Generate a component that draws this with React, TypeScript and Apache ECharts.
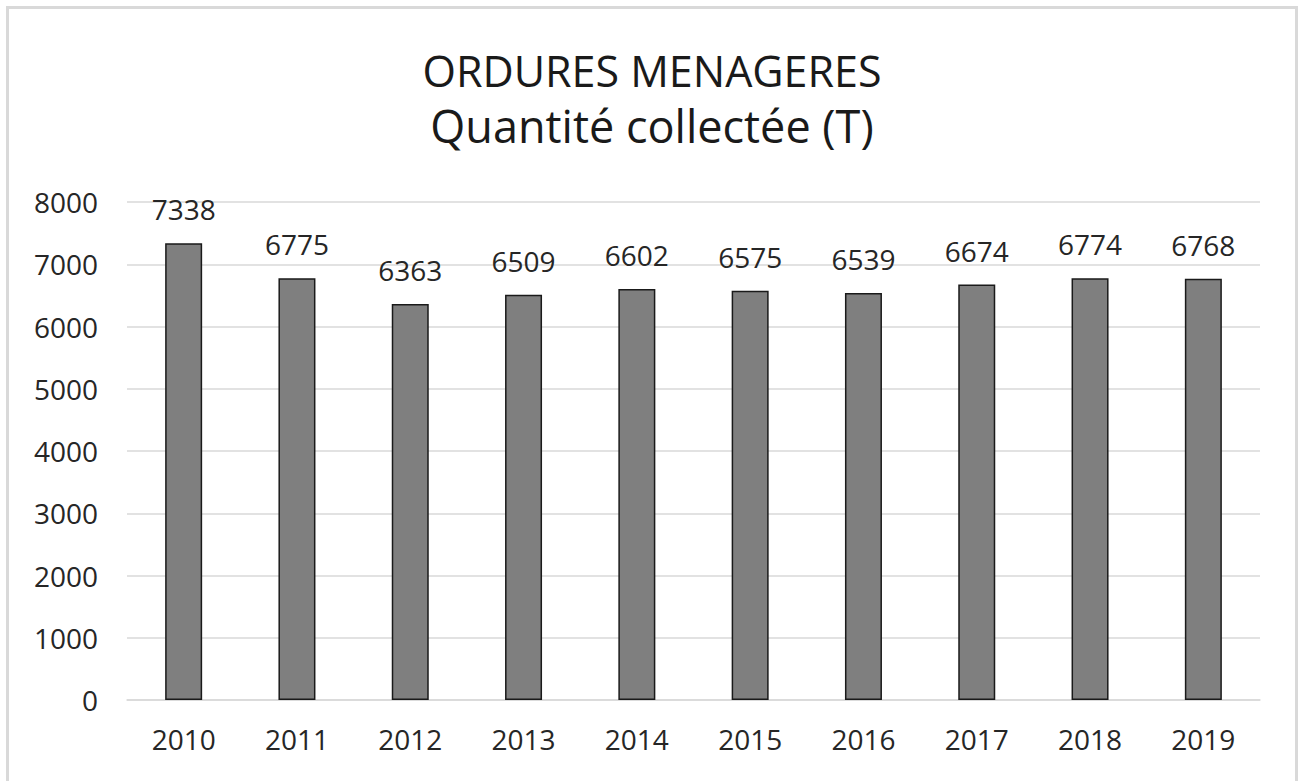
import React, { useEffect, useRef } from "react";
import * as echarts from "echarts";

const categories = ["2010", "2011", "2012", "2013", "2014", "2015", "2016", "2017", "2018", "2019"];
const values = [7338, 6775, 6363, 6509, 6602, 6575, 6539, 6674, 6774, 6768];
const titleLine1 = "ORDURES MENAGERES";
const titleLine2 = "Quantité collectée (T)";

const FONT = "'Open Sans', 'Noto Sans', sans-serif";

export default function App() {
  const ref = useRef<HTMLDivElement>(null);
  useEffect(() => {
    if (!ref.current) return;
    const chart = echarts.init(ref.current, null, { renderer: "svg" });
    chart.setOption({
      animation: false,
      backgroundColor: "#ffffff",
      title: {
        text: `{a|${titleLine1}}\n{b|${titleLine2}}`,
        left: "center",
        top: 38,
        textStyle: {
          fontFamily: FONT,
          fontSize: 43,
          fontWeight: "normal",
          color: "#1a1a1a",
          lineHeight: 55,
          rich: {
            a: { fontFamily: FONT, fontSize: 43, color: "#1a1a1a", lineHeight: 55 },
            b: { fontFamily: FONT, fontSize: 45, color: "#1a1a1a", lineHeight: 55 },
          },
        },
      },
      graphic: [
        {
          type: "rect",
          shape: { x: 7.5, y: 7.5, width: 1289, height: 820 },
          style: { fill: "none", stroke: "#d9d9d9", lineWidth: 3 },
          silent: true,
        },
      ],
      grid: { left: 127, right: 44, top: 202, bottom: 81 },
      xAxis: {
        type: "category",
        data: categories,
        axisLine: { show: true, lineStyle: { color: "#d9d9d9", width: 1.5 } },
        axisTick: { show: false },
        axisLabel: {
          fontFamily: FONT,
          fontSize: 28,
          color: "#262626",
          margin: 25,
        },
      },
      yAxis: {
        type: "value",
        min: 0,
        max: 8000,
        interval: 1000,
        axisLine: { show: false },
        axisTick: { show: false },
        splitLine: { lineStyle: { color: "#d9d9d9", width: 1.5 } },
        axisLabel: {
          fontFamily: FONT,
          fontSize: 28,
          color: "#262626",
          margin: 29,
          formatter: (v: number) => String(v),
        },
      },
      series: [
        {
          type: "bar",
          data: values,
          barWidth: 37,
          itemStyle: { color: "#7f7f7f", borderColor: "#1a1a1a", borderWidth: 1.5 },
          label: {
            show: true,
            position: "top",
            distance: 20,
            fontFamily: FONT,
            fontSize: 28,
            color: "#262626",
          },
        },
      ],
    });
    return () => chart.dispose();
  }, []);
  return (
    <div
      ref={ref}
      style={{ position: "fixed", left: 0, top: 0, width: 1304, height: 781 }}
    />
  );
}
